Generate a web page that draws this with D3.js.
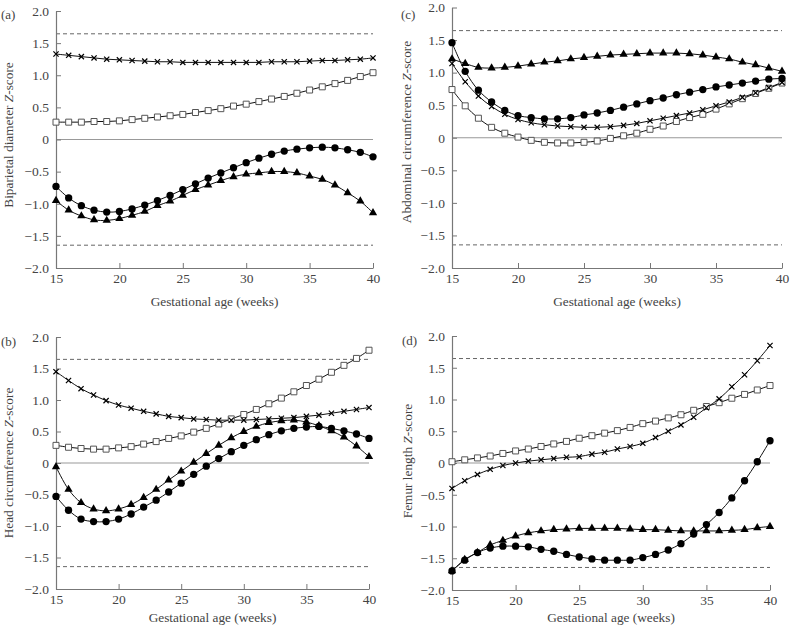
<!DOCTYPE html>
<html><head><meta charset="utf-8">
<script src="https://cdn.jsdelivr.net/npm/d3@7"></script>
<style>
body{margin:0;background:#fff;}
svg{display:block;font-family:"Liberation Serif","DejaVu Serif",serif;}
</style></head>
<body><svg id="chart" width="790" height="625"></svg>
<script>
// ---------- data ----------
const weeks = d3.range(15, 41);
const xTicks = [15, 20, 25, 30, 35, 40];
const yTicks = [2.0, 1.5, 1.0, 0.5, 0, -0.5, -1.0, -1.5, -2.0];
const cutoffs = [1.645, -1.645];
const xTitle = "Gestational age (weeks)";

// (a) Biparietal diameter
const bpdCircles   = [-0.73,-0.91,-1.03,-1.10,-1.13,-1.12,-1.08,-1.02,-0.95,-0.87,-0.78,-0.69,-0.60,-0.52,-0.44,-0.36,-0.29,-0.23,-0.18,-0.15,-0.13,-0.12,-0.13,-0.16,-0.20,-0.27];
const bpdTriangles = [-0.95,-1.10,-1.19,-1.25,-1.26,-1.23,-1.18,-1.12,-1.03,-0.96,-0.87,-0.78,-0.71,-0.64,-0.58,-0.54,-0.52,-0.50,-0.50,-0.52,-0.57,-0.62,-0.71,-0.83,-0.96,-1.14];
const bpdCrosses   = [1.33,1.31,1.29,1.27,1.25,1.24,1.23,1.22,1.21,1.21,1.20,1.20,1.20,1.20,1.20,1.20,1.20,1.21,1.21,1.21,1.22,1.23,1.23,1.24,1.25,1.27];
const bpdSquares   = [0.27,0.27,0.27,0.28,0.28,0.29,0.31,0.33,0.35,0.37,0.39,0.42,0.45,0.48,0.52,0.55,0.59,0.63,0.67,0.72,0.77,0.82,0.87,0.92,0.98,1.04];

// (b) Head circumference
const hcCircles   = [-0.53,-0.75,-0.89,-0.93,-0.93,-0.89,-0.81,-0.70,-0.59,-0.46,-0.32,-0.18,-0.05,0.07,0.18,0.28,0.37,0.45,0.51,0.55,0.57,0.58,0.55,0.51,0.46,0.39];
const hcTriangles = [-0.06,-0.42,-0.63,-0.73,-0.76,-0.73,-0.66,-0.55,-0.42,-0.27,-0.13,0.01,0.15,0.28,0.40,0.50,0.58,0.64,0.67,0.68,0.65,0.59,0.51,0.41,0.27,0.10];
const hcCrosses   = [1.45,1.31,1.18,1.08,0.99,0.92,0.87,0.82,0.78,0.74,0.72,0.70,0.69,0.68,0.68,0.68,0.69,0.70,0.71,0.72,0.74,0.76,0.79,0.82,0.85,0.88];
const hcSquares   = [0.28,0.25,0.23,0.22,0.22,0.24,0.26,0.30,0.34,0.39,0.43,0.49,0.55,0.62,0.70,0.77,0.85,0.94,1.03,1.13,1.23,1.33,1.44,1.55,1.66,1.79];

// (c) Abdominal circumference
const acCircles   = [1.46,1.02,0.73,0.55,0.42,0.34,0.31,0.29,0.29,0.31,0.35,0.38,0.42,0.47,0.52,0.57,0.61,0.66,0.70,0.74,0.78,0.81,0.84,0.87,0.90,0.91];
const acTriangles = [1.21,1.14,1.08,1.07,1.08,1.10,1.13,1.16,1.18,1.21,1.23,1.25,1.27,1.28,1.29,1.30,1.30,1.30,1.29,1.27,1.24,1.21,1.16,1.12,1.07,1.02];
const acCrosses   = [1.14,0.86,0.64,0.48,0.36,0.28,0.23,0.20,0.18,0.17,0.16,0.16,0.17,0.19,0.22,0.26,0.30,0.34,0.38,0.43,0.49,0.55,0.62,0.69,0.77,0.85];
const acSquares   = [0.74,0.49,0.30,0.16,0.07,0.01,-0.04,-0.07,-0.08,-0.08,-0.07,-0.05,-0.01,0.03,0.07,0.13,0.18,0.25,0.31,0.36,0.44,0.52,0.60,0.68,0.76,0.84];

// (d) Femur length
const flCircles   = [-1.70,-1.53,-1.41,-1.34,-1.31,-1.31,-1.32,-1.36,-1.39,-1.44,-1.48,-1.51,-1.53,-1.53,-1.53,-1.49,-1.44,-1.37,-1.27,-1.12,-0.97,-0.78,-0.55,-0.28,0.02,0.35];
const flTriangles = [-1.70,-1.52,-1.41,-1.29,-1.22,-1.15,-1.10,-1.07,-1.05,-1.04,-1.03,-1.03,-1.03,-1.03,-1.04,-1.05,-1.05,-1.06,-1.07,-1.07,-1.07,-1.07,-1.06,-1.05,-1.02,-1.00];
const flCrosses   = [-0.40,-0.28,-0.18,-0.10,-0.04,0.00,0.03,0.05,0.07,0.09,0.10,0.14,0.17,0.22,0.26,0.31,0.40,0.50,0.60,0.72,0.87,1.01,1.20,1.39,1.61,1.85];
const flSquares   = [0.02,0.05,0.08,0.11,0.15,0.19,0.22,0.26,0.30,0.34,0.39,0.43,0.47,0.51,0.56,0.62,0.66,0.71,0.76,0.83,0.89,0.95,1.02,1.08,1.15,1.22];

// ---------- layout ----------
const panels = [
  {tag:"(a)", name:"Biparietal diameter", series:{circle:bpdCircles, triangle:bpdTriangles, cross:bpdCrosses, square:bpdSquares},
   l:56, r:373, t:11, b:268, tagX:1, tagY:14, ttlX:9, ttlY:135, xtY:306},
  {tag:"(c)", name:"Abdominal circumference", series:{circle:acCircles, triangle:acTriangles, cross:acCrosses, square:acSquares},
   l:452, r:782, t:7.5, b:268, tagX:401, tagY:14, ttlX:407, ttlY:132, xtY:306},
  {tag:"(b)", name:"Head circumference", series:{circle:hcCircles, triangle:hcTriangles, cross:hcCrosses, square:hcSquares},
   l:56, r:369, t:337, b:589, tagX:1, tagY:341, ttlX:9, ttlY:463, xtY:622},
  {tag:"(d)", name:"Femur length", series:{circle:flCircles, triangle:flTriangles, cross:flCrosses, square:flSquares},
   l:452, r:770, t:336, b:590, tagX:402, tagY:340, ttlX:408, ttlY:461, xtY:622}
];

const svg = d3.select("#chart");
const textCol = "#444";
const axisCol = "#777";
const fmt = v => v === 0 ? "0" : d3.format(".1f")(v).replace("-", "\u2212");

panels.forEach(p => {
  const x = d3.scaleLinear().domain([15, 40]).range([p.l, p.r]);
  const y = d3.scaleLinear().domain([-2, 2]).range([p.b, p.t]);
  const g = svg.append("g");

  // reference lines
  cutoffs.forEach(c => {
    g.append("line").attr("x1", x(15)).attr("x2", x(40)).attr("y1", y(c)).attr("y2", y(c))
      .attr("stroke", "#666").attr("stroke-width", 1).attr("stroke-dasharray", "4,3");
  });
  g.append("line").attr("x1", x(15)).attr("x2", x(40)).attr("y1", y(0)).attr("y2", y(0))
    .attr("stroke", "#999").attr("stroke-width", 1.2);

  // axes
  const ya = g.append("g").attr("transform", `translate(${p.l},0)`)
    .call(d3.axisLeft(y).tickValues(yTicks).tickFormat(fmt).tickSize(-5).tickSizeOuter(0).tickPadding(7));
  const xa = g.append("g").attr("transform", `translate(0,${p.b})`)
    .call(d3.axisBottom(x).tickValues(xTicks).tickSize(-5).tickSizeOuter(0).tickPadding(5));
  [ya, xa].forEach(a => {
    a.select(".domain").attr("stroke", axisCol).attr("stroke-width", 1.2);
    a.selectAll(".tick line").attr("stroke", axisCol).attr("stroke-width", 1);
    a.selectAll(".tick text").attr("fill", textCol).style("font-size", "13.5px")
      .style("font-family", '"Liberation Serif","DejaVu Serif",serif');
  });

  // titles
  const yt = g.append("text").attr("transform", `translate(${p.ttlX + 4},${p.ttlY}) rotate(-90)`)
    .attr("text-anchor", "middle").attr("fill", textCol).style("font-size", "13.3px");
  yt.append("tspan").text(p.name + " ");
  yt.append("tspan").attr("font-style", "italic").text("Z");
  yt.append("tspan").text("-score");
  g.append("text").attr("x", (p.l + p.r) / 2).attr("y", p.xtY).attr("text-anchor", "middle")
    .attr("fill", textCol).style("font-size", "13.3px").text(xTitle);
  g.append("text").attr("x", p.tagX).attr("y", p.tagY + 4.5).attr("fill", textCol)
    .style("font-size", "13px").text(p.tag);

  // series
  const line = d3.line().x((d, i) => x(weeks[i])).y(d => y(d)).curve(d3.curveCatmullRom);
  const order = ["square", "cross", "triangle", "circle"];
  order.forEach(k => {
    const vals = p.series[k];
    g.append("path").attr("d", line(vals)).attr("fill", "none").attr("stroke", "#111").attr("stroke-width", 1);
  });
  order.forEach(k => {
    const vals = p.series[k];
    const pts = g.append("g").selectAll("g").data(vals).join("g")
      .attr("transform", (d, i) => `translate(${x(weeks[i])},${y(d)})`);
    if (k === "circle") {
      pts.append("path").attr("d", d3.symbol(d3.symbolCircle, 42)()).attr("fill", "#000");
    } else if (k === "triangle") {
      pts.append("path").attr("d", d3.symbol(d3.symbolTriangle, 30)()).attr("fill", "#000");
    } else if (k === "square") {
      pts.append("path").attr("d", d3.symbol(d3.symbolSquare, 36)()).attr("fill", "#fff")
        .attr("stroke", "#555").attr("stroke-width", 1);
    } else {
      pts.append("path").attr("d", "M-2.6,-2.6L2.6,2.6M-2.6,2.6L2.6,-2.6")
        .attr("stroke", "#000").attr("stroke-width", 1.2);
    }
  });
});
</script>
</body></html>
